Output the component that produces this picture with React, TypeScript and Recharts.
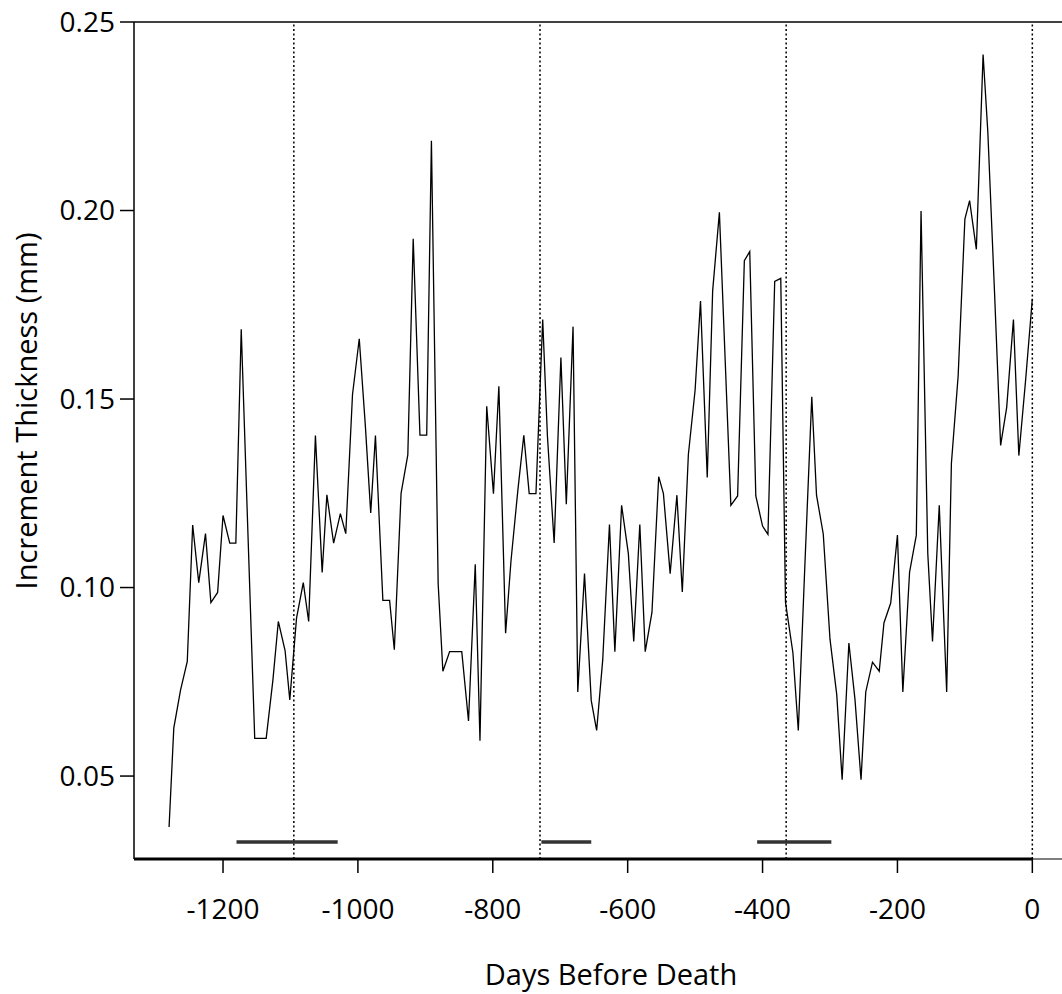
import React from 'react';
import { LineChart, Line, XAxis, YAxis, ReferenceLine } from 'recharts';

const days = [
  -1280, -1273, -1263, -1253, -1245, -1236, -1226, -1218, -1208, -1200,
  -1190, -1181, -1173, -1163, -1153, -1145, -1136, -1126, -1118, -1108,
  -1101, -1091, -1081, -1073, -1063, -1053, -1046, -1036, -1026, -1018,
  -1008, -998, -989, -981, -974, -963, -953, -946, -936, -926,
  -918, -908, -898, -891, -881, -874, -864, -855, -846, -836,
  -826, -819, -809, -799, -791, -781, -773, -763, -754, -746,
  -736, -726, -719, -709, -699, -691, -681, -674, -664, -654,
  -646, -637, -627, -619, -609, -599, -591, -582, -574, -564,
  -554, -547, -537, -527, -519, -510, -500, -492, -482, -474,
  -464, -447, -437, -427, -419, -410, -400, -392, -382, -373,
  -366, -355, -347, -337, -327, -320, -310, -300, -290, -282,
  -272, -263, -254, -247, -237, -227, -220, -210, -200, -192,
  -182, -172, -165, -155, -148, -138, -127, -120, -110, -100,
  -93, -83, -73, -66, -56, -47, -38, -28, -20, -10,
  0,
];

const thickness = [
  0.0365, 0.0627, 0.0728, 0.0804, 0.1166, 0.1013, 0.1143, 0.096, 0.0987, 0.1191,
  0.1118, 0.1118, 0.1685, 0.114, 0.06, 0.06, 0.06, 0.0755, 0.091, 0.0833,
  0.0702, 0.0919, 0.1013, 0.091, 0.1403, 0.104, 0.1246, 0.1118, 0.1196, 0.1143,
  0.1512, 0.166, 0.143, 0.1198, 0.1403, 0.0966, 0.0966, 0.0835, 0.125, 0.1352,
  0.1925, 0.1404, 0.1404, 0.2185, 0.101, 0.0778, 0.083, 0.083, 0.083, 0.0646,
  0.1062, 0.0594, 0.1481, 0.1249, 0.1534, 0.0879, 0.1071, 0.1255, 0.1404, 0.1249,
  0.1249, 0.1711, 0.1402, 0.1118, 0.161, 0.1221, 0.1692, 0.0723, 0.1037, 0.07,
  0.0621, 0.0808, 0.1167, 0.083, 0.1218, 0.109, 0.0857, 0.1167, 0.083, 0.0934,
  0.1294, 0.1249, 0.1037, 0.1245, 0.0988, 0.1353, 0.1524, 0.176, 0.1292, 0.1787,
  0.1995, 0.1218, 0.1243, 0.1867, 0.1891, 0.1243, 0.1163, 0.1141, 0.1812, 0.182,
  0.0961, 0.0827, 0.0621, 0.1071, 0.1506, 0.1245, 0.1142, 0.0863, 0.0716, 0.049,
  0.0853, 0.0704, 0.049, 0.0723, 0.0802, 0.0778, 0.0906, 0.0959, 0.1139, 0.0723,
  0.1041, 0.1139, 0.1999, 0.109, 0.0857, 0.1218, 0.0723, 0.1329, 0.1561, 0.1977,
  0.2026, 0.1897, 0.2414, 0.2209, 0.1781, 0.1377, 0.1478, 0.1711, 0.135, 0.1549,
  0.1766,
];

const xTicks = [-1200, -1000, -800, -600, -400, -200, 0];
const yTicks = [0.05, 0.1, 0.15, 0.2, 0.25];
const yearMarks = [-1095, -730, -365, 0];
const barStarts = [-1180, -728, -408];
const barEnds = [-1030, -654, -298];
const barLevel = 0.0325;
const xDomain: [number, number] = [-1332, 44];
const yDomain: [number, number] = [0.028, 0.25];

const data = days.map((d, i) => ({ day: d, value: thickness[i] }));

const FONT = '"Open Sans", "Noto Sans", sans-serif';

export default function App() {
  return (
    <div style={{ position: 'absolute', left: 0, top: 0, width: 1062, height: 994, overflow: 'hidden', background: '#fff' }}>
      <LineChart
        width={1062}
        height={994}
        data={data}
        margin={{ top: 22, right: 0, bottom: 0, left: 0 }}
        style={{ fontFamily: FONT }}
      >
        <XAxis
          dataKey="day"
          type="number"
          domain={xDomain}
          allowDataOverflow
          ticks={xTicks}
          tickSize={14}
          tickMargin={26}
          height={135}
          stroke="#000"
          axisLine={{ stroke: '#000', strokeWidth: 1.2 }}
          tickLine={{ stroke: '#000', strokeWidth: 1.5 }}
          tick={{ fill: '#000', fontSize: 28, fontFamily: FONT }}
          label={{
            content: (p: any) => {
              const vb = p.viewBox || {};
              return (
                <text x={611} y={vb.y + 126} textAnchor="middle" fontSize={29} fontFamily={FONT} fill="#000">
                  Days Before Death
                </text>
              );
            },
          }}
        />
        <YAxis
          type="number"
          domain={yDomain}
          allowDataOverflow
          ticks={yTicks}
          tickFormatter={(v: number) => v.toFixed(2)}
          width={134}
          tickSize={14}
          tickMargin={5}
          axisLine={{ stroke: '#000', strokeWidth: 1.5 }}
          tickLine={{ stroke: '#000', strokeWidth: 1.5 }}
          tick={{ fill: '#000', fontSize: 28, fontFamily: FONT }}
          label={{
            content: () => (
              <text
                x={25}
                y={411}
                transform="rotate(-90, 25, 411)"
                textAnchor="middle"
                dominantBaseline="central"
                fontSize={29}
                fontFamily={FONT}
                fill="#000"
              >
                Increment Thickness (mm)
              </text>
            ),
          }}
        />
        <ReferenceLine y={0.25} stroke="#000" strokeWidth={1.5} ifOverflow="visible" />
        <ReferenceLine
          segment={[{ x: xDomain[0], y: yDomain[0] }, { x: 0, y: yDomain[0] }]}
          stroke="#000"
          strokeWidth={3}
          ifOverflow="visible"
        />
        {yearMarks.map((x) => (
          <ReferenceLine key={x} x={x} stroke="#000" strokeWidth={1.5} strokeDasharray="2 2.5" />
        ))}
        {barStarts.map((s, i) => (
          <ReferenceLine
            key={'bar' + i}
            segment={[{ x: s, y: barLevel }, { x: barEnds[i], y: barLevel }]}
            stroke="#333"
            strokeWidth={3.5}
          />
        ))}
        <Line
          type="linear"
          dataKey="value"
          stroke="#000"
          strokeWidth={1.3}
          dot={false}
          isAnimationActive={false}
        />
      </LineChart>
    </div>
  );
}
